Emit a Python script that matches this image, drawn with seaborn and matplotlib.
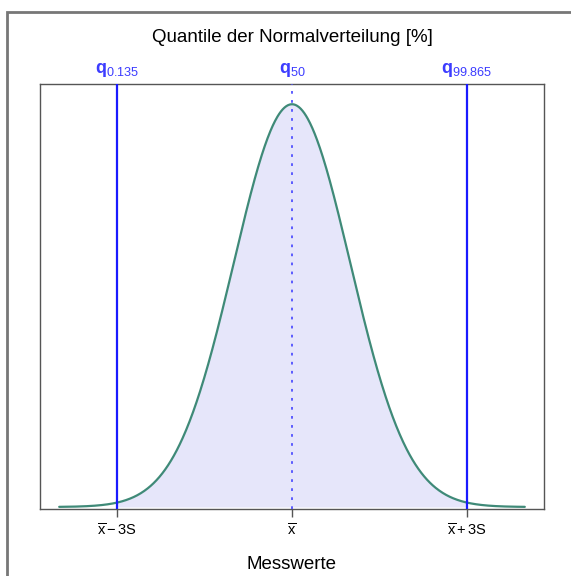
import numpy as np
import pandas as pd
import matplotlib
matplotlib.use("Agg")
import matplotlib.pyplot as plt
from matplotlib.patches import Rectangle
import seaborn as sns

# Normal distribution parameters (standardised measurement scale)
mean = 0.0
sd = 1.0
z_limits = [-4.0, 4.0]

# Quantiles marked on the chart
quantile_pct = ["0.135", "50", "99.865"]
quantile_z = [-3.0, 0.0, 3.0]
tick_labels = [r"$\overline{\mathrm{x}}-3\mathrm{S}$",
               r"$\overline{\mathrm{x}}$",
               r"$\overline{\mathrm{x}}+3\mathrm{S}$"]

x = np.linspace(z_limits[0], z_limits[1], 801)
density = np.exp(-0.5 * ((x - mean) / sd) ** 2) / (sd * np.sqrt(2 * np.pi))
df = pd.DataFrame({"Messwerte": x, "Dichte": density})

sns.set_style("white")
plt.rcParams["font.family"] = ["Liberation Sans", "DejaVu Sans"]
plt.rcParams["mathtext.fontset"] = "custom"
plt.rcParams["mathtext.rm"] = "Liberation Sans"
plt.rcParams["mathtext.it"] = "Liberation Sans"
plt.rcParams["mathtext.bf"] = "Liberation Sans:bold"
plt.rcParams["text.color"] = "black"
plt.rcParams["xtick.color"] = "black"
plt.rcParams["axes.labelcolor"] = "black"

fig = plt.figure(figsize=(5.71, 5.76), dpi=100)
ax = fig.add_axes([40 / 571, 67 / 576, 504 / 571, 425 / 576])

# shaded area between the outer quantiles
inner = (df["Messwerte"] >= quantile_z[0]) & (df["Messwerte"] <= quantile_z[2])
ax.fill_between(df.loc[inner, "Messwerte"], 0, df.loc[inner, "Dichte"],
                color="#e6e6fa", linewidth=0, zorder=1)

sns.lineplot(data=df, x="Messwerte", y="Dichte", ax=ax,
             color="#3f8a78", linewidth=1.6, zorder=4)

# quantile lines
for z, pct in zip(quantile_z, quantile_pct):
    if pct == "50":
        ax.axvline(z, color="#5050ff", linestyle=(0, (1.5, 3.5)), linewidth=1.3, zorder=3)
    else:
        ax.axvline(z, color="#1a1aff", linewidth=1.6, zorder=5)
    ax.text(z, 1.012, r"$\mathbf{q}_{\mathrm{%s}}$" % pct, transform=ax.get_xaxis_transform(),
            ha="center", va="bottom", color="#3c3cff", fontsize=13)

ax.set_xlim(-4.33, 4.33)
ax.set_ylim(-0.002, 0.419)
ax.set_yticks([])
ax.set_xticks(quantile_z)
ax.set_xticklabels(tick_labels, fontsize=10.5)
ax.tick_params(axis="x", direction="out", length=6, width=1, color="#555555",
               pad=4, bottom=True, labelcolor="black")
ax.set_ylabel("")
ax.set_xlabel("Messwerte", fontsize=13.5, labelpad=12)
for s in ax.spines.values():
    s.set_color("#555555")
    s.set_linewidth(1.0)

fig.text(292 / 571, 1 - 37 / 576, "Quantile der Normalverteilung [%]",
         ha="center", va="center", fontsize=13.5)

# outer frame
fig.patches.append(Rectangle((6.5 / 571, -0.05), 1.0, 1 - 11.5 / 576 + 0.05,
                             transform=fig.transFigure, fill=False,
                             edgecolor="#777777", linewidth=2, clip_on=False))

fig.savefig("out.png", dpi=100, facecolor="white")
